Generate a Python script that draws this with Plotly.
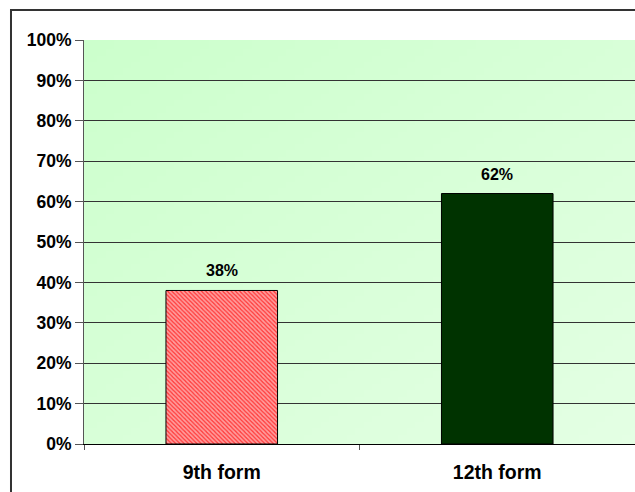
import base64
import struct
import zlib

import plotly.graph_objects as go

# Chart data
categories = ["9th form", "12th form"]
shares = [0.38, 0.62]
y_ticks = [i / 10 for i in range(11)]
y_tick_labels = [f"{i * 10}%" for i in range(11)]

FONT = "Arial, Liberation Sans, sans-serif"


def gradient_png(w, h, c0, c1):
    """Build a small diagonal-gradient PNG and return it as a data URI."""
    raw = bytearray()
    for y in range(h):
        raw.append(0)
        for x in range(w):
            t = (x / (w - 1) + y / (h - 1)) / 2
            raw.extend(int(round(a + (b - a) * t)) for a, b in zip(c0, c1))

    def chunk(tag, data):
        body = tag + data
        return struct.pack(">I", len(data)) + body + struct.pack(">I", zlib.crc32(body) & 0xFFFFFFFF)

    png = b"\x89PNG\r\n\x1a\n"
    png += chunk(b"IHDR", struct.pack(">IIBBBBB", w, h, 8, 2, 0, 0, 0))
    png += chunk(b"IDAT", zlib.compress(bytes(raw), 9))
    png += chunk(b"IEND", b"")
    return "data:image/png;base64," + base64.b64encode(png).decode()


bg = gradient_png(64, 64, (204, 255, 204), (228, 255, 228))

fig = go.Figure()

fig.add_trace(go.Bar(
    x=categories,
    y=shares,
    width=0.405,
    marker=dict(
        color=["#FF4040", "#003300"],
        line=dict(color="#000000", width=1),
        pattern=dict(
            shape=["\\", ""],
            fgcolor="#FF0000",
            bgcolor="#FFFFFF",
            size=3,
            solidity=0.55,
        ),
    ),
    hoverinfo="skip",
))

# value labels above the bars
for cat, val in zip(categories, shares):
    fig.add_annotation(
        x=cat, y=val, xref="x", yref="y",
        text=f"{val:.0%}",
        showarrow=False,
        yanchor="bottom",
        yshift=9,
        font=dict(family=FONT, size=16, color="#000000", weight="bold"),
    )

fig.update_layout(
    width=635,
    height=492,
    margin=dict(l=84, r=0, t=40, b=48),
    paper_bgcolor="#FFFFFF",
    plot_bgcolor="rgba(0,0,0,0)",
    showlegend=False,
    font=dict(family=FONT, color="#000000"),
    images=[dict(
        source=bg,
        xref="paper", yref="paper",
        x=0, y=1, sizex=1, sizey=1,
        sizing="stretch",
        xanchor="left", yanchor="top",
        layer="below",
    )],
    shapes=[dict(
        type="rect",
        xref="paper", yref="paper",
        x0=-0.1325, y0=-0.3, x1=1.1, y1=1.0743,
        line=dict(color="#333333", width=2),
        fillcolor="rgba(0,0,0,0)",
        layer="above",
    )],
)

fig.update_yaxes(
    range=[0, 1],
    tickvals=y_ticks,
    ticktext=y_tick_labels,
    ticks="outside",
    ticklen=8,
    tickcolor="#555555",
    tickfont=dict(family=FONT, size=17.5, color="#000000", weight="bold"),
    showgrid=True,
    gridcolor="#333333",
    gridwidth=1,
    showline=True,
    linecolor="#555555",
    linewidth=1,
    zeroline=False,
    fixedrange=True,
)

fig.update_xaxes(
    type="category",
    tickson="boundaries",
    ticks="outside",
    ticklen=5,
    tickcolor="#555555",
    tickfont=dict(family=FONT, size=19.5, color="#000000", weight="bold"),
    ticklabelstandoff=11,
    showgrid=False,
    showline=True,
    linecolor="#000000",
    linewidth=1,
    fixedrange=True,
)

fig.write_html("out.html")
